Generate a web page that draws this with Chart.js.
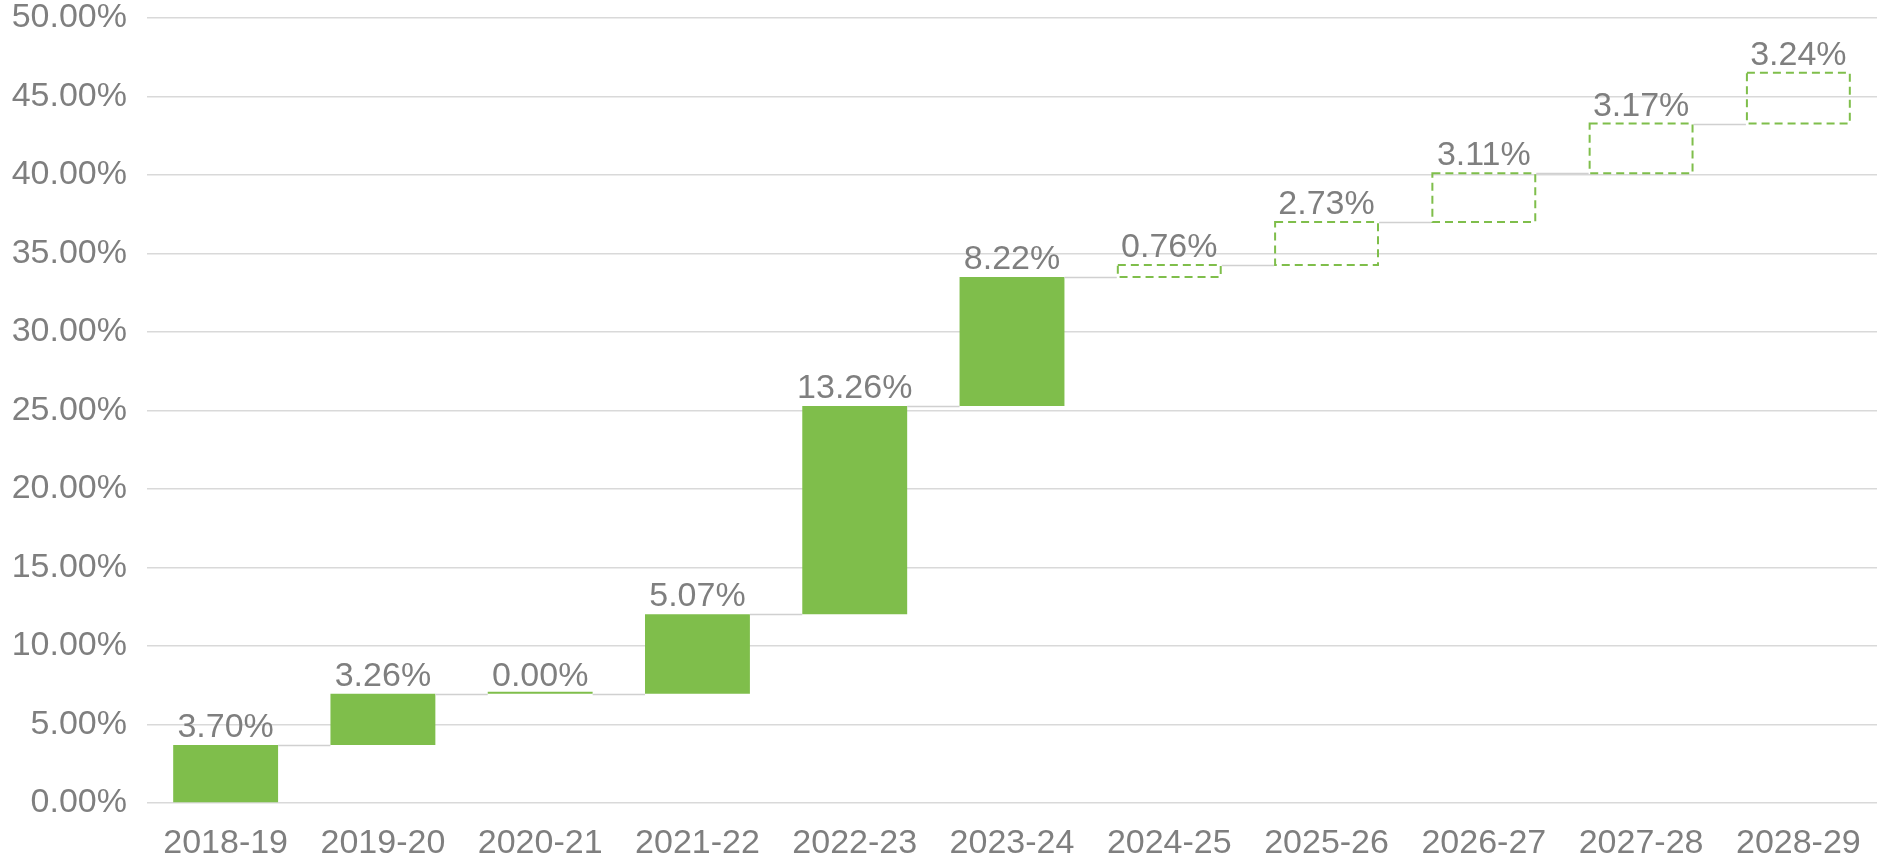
<!DOCTYPE html>
<html>
<head>
<meta charset="utf-8">
<script src="https://cdn.jsdelivr.net/npm/chart.js@4"></script>
<style>
  html, body { margin: 0; padding: 0; background: #ffffff; }
  #wrap { width: 1885px; height: 861px; }
</style>
</head>
<body>
<div id="wrap"><canvas id="c" width="1885" height="861"></canvas></div>
<script>
const categories = ['2018-19','2019-20','2020-21','2021-22','2022-23','2023-24','2024-25','2025-26','2026-27','2027-28','2028-29'];
const changes = [3.70, 3.26, 0.00, 5.07, 13.26, 8.22, 0.76, 2.73, 3.11, 3.17, 3.24];
const isForecast = [false, false, false, false, false, false, true, true, true, true, true];
const yTicks = [0, 5, 10, 15, 20, 25, 30, 35, 40, 45, 50];

const GREEN = '#7fbe4b';
const TEXT = '#7f7f7f';
const GRID = '#d9d9d9';
const FONT = "'Liberation Sans', Arial, sans-serif";

// waterfall ranges built from the changes
const ranges = [];
let running = 0;
for (const v of changes) {
  const start = running;
  running = +(running + v).toFixed(4);
  ranges.push([start, running]);
}

const waterfallPlugin = {
  id: 'waterfall',
  afterDatasetsDraw(chart) {
    const ctx = chart.ctx;
    const meta = chart.getDatasetMeta(0);
    const y = chart.scales.y;
    ctx.save();
    // connectors
    ctx.strokeStyle = '#d0d0d0';
    ctx.lineWidth = 1.5;
    for (let i = 0; i < meta.data.length - 1; i++) {
      const a = meta.data[i], b = meta.data[i + 1];
      const py = Math.round(y.getPixelForValue(ranges[i][1])) + 0.5;
      ctx.beginPath();
      ctx.moveTo(a.x + a.width / 2, py);
      ctx.lineTo(b.x - b.width / 2, py);
      ctx.stroke();
    }
    // dashed forecast boxes
    ctx.strokeStyle = GREEN;
    ctx.lineWidth = 2;
    ctx.setLineDash([8, 5]);
    meta.data.forEach((el, i) => {
      if (!isForecast[i]) return;
      const top = y.getPixelForValue(ranges[i][1]);
      const bot = y.getPixelForValue(ranges[i][0]);
      const left = el.x - el.width / 2;
      ctx.strokeRect(left + 1, top, el.width - 2, bot - top);
    });
    ctx.setLineDash([]);
    // labels
    ctx.fillStyle = TEXT;
    ctx.font = '34px ' + FONT;
    ctx.textAlign = 'center';
    ctx.textBaseline = 'alphabetic';
    meta.data.forEach((el, i) => {
      const top = y.getPixelForValue(ranges[i][1]);
      ctx.fillText(changes[i].toFixed(2) + '%', el.x, top - 8);
    });
    ctx.restore();
  }
};

new Chart(document.getElementById('c'), {
  type: 'bar',
  data: {
    labels: categories,
    datasets: [{
      data: ranges,
      backgroundColor: isForecast.map(f => f ? 'rgba(0,0,0,0)' : GREEN),
      borderWidth: 0,
      barPercentage: 0.667,
      categoryPercentage: 1,
      minBarLength: 2
    }]
  },
  options: {
    responsive: false,
    animation: false,
    devicePixelRatio: 1,
    layout: { padding: { top: 18, right: 8, left: 0, bottom: 0 } },
    plugins: { legend: { display: false }, tooltip: { enabled: false } },
    scales: {
      x: {
        grid: { display: false, drawTicks: false },
        border: { display: false },
        ticks: { color: TEXT, font: { family: FONT, size: 34, lineHeight: 1 }, padding: 24, maxRotation: 0 },
        afterFit(s) { s.height = 58; s.paddingLeft = 0; s.paddingRight = 0; }
      },
      y: {
        min: 0, max: 50,
        afterBuildTicks(s) { s.ticks = yTicks.map(v => ({ value: v })); },
        grid: { color: GRID, lineWidth: 1.5, drawTicks: false },
        border: { display: false },
        ticks: { color: TEXT, font: { family: FONT, size: 34, lineHeight: 1 }, padding: 20,
                 callback: v => Number(v).toFixed(2) + '%' },
        afterFit(s) { s.width = 147; s.paddingTop = 0; s.paddingBottom = 0; }
      }
    }
  },
  plugins: [waterfallPlugin]
});
</script>
</body>
</html>
